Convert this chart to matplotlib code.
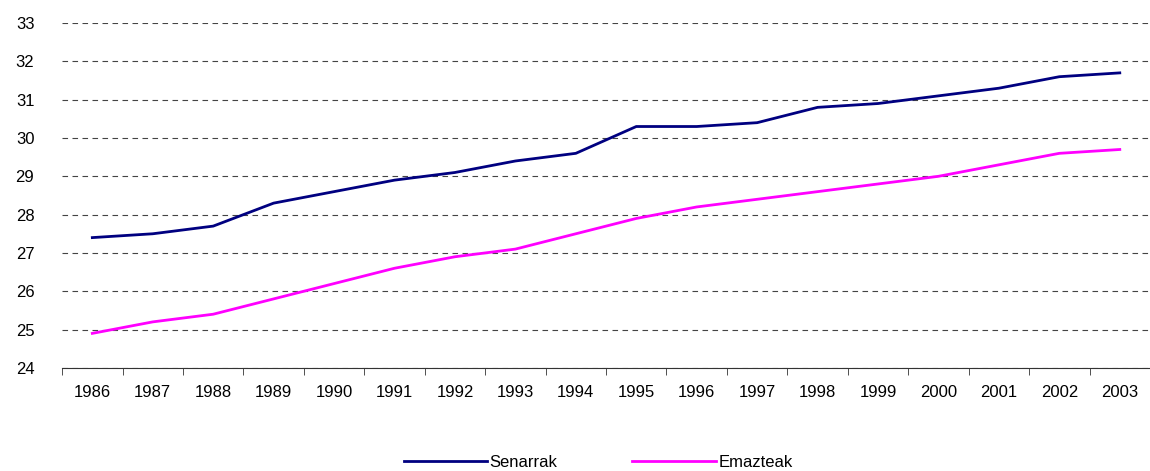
import numpy as np
import matplotlib.pyplot as plt
from matplotlib.ticker import FixedLocator

plt.rcParams['font.family'] = ['Liberation Sans', 'DejaVu Sans']

years = [str(y) for y in range(1986, 2004)]
senarrak = [27.4, 27.5, 27.7, 28.3, 28.6, 28.9, 29.1, 29.4, 29.6, 30.3,
            30.3, 30.4, 30.8, 30.9, 31.1, 31.3, 31.6, 31.7]
emazteak = [24.9, 25.2, 25.4, 25.8, 26.2, 26.6, 26.9, 27.1, 27.5, 27.9,
            28.2, 28.4, 28.6, 28.8, 29.0, 29.3, 29.6, 29.7]

fig = plt.figure(figsize=(11.5, 4.71), dpi=100)
ax = fig.add_axes([0.054, 0.219, 0.946, 0.732])

x = np.arange(len(years))
ax.plot(x, senarrak, color='#000080', lw=2.0, label='Senarrak')
ax.plot(x, emazteak, color='#FF00FF', lw=2.0, label='Emazteak')

ax.set_xlim(-0.5, len(years) - 0.5)
ax.set_ylim(24, 33)
ax.set_yticks(range(24, 34))
ax.set_xticks(x)
ax.set_xticklabels(years)
ax.xaxis.set_minor_locator(FixedLocator(np.arange(-0.5, len(years), 1)))
ax.tick_params(axis='x', which='major', length=0, pad=12, labelsize=12)
ax.tick_params(axis='x', which='minor', length=5, color='#333333')
ax.tick_params(axis='y', length=0, pad=20, labelsize=12)

for s in ['left', 'top', 'right']:
    ax.spines[s].set_visible(False)
ax.spines['bottom'].set_color('#333333')

ax.yaxis.grid(True, linestyle=(0, (5, 4)), color='#444444', lw=0.8)
ax.set_axisbelow(True)

fig.legend(loc='center', bbox_to_anchor=(0.52, 0.018), ncol=2, frameon=False,
           fontsize=12, handlelength=5, handletextpad=0.15, columnspacing=4.5,
           borderpad=0.1)

fig.savefig('out.png', dpi=100)
